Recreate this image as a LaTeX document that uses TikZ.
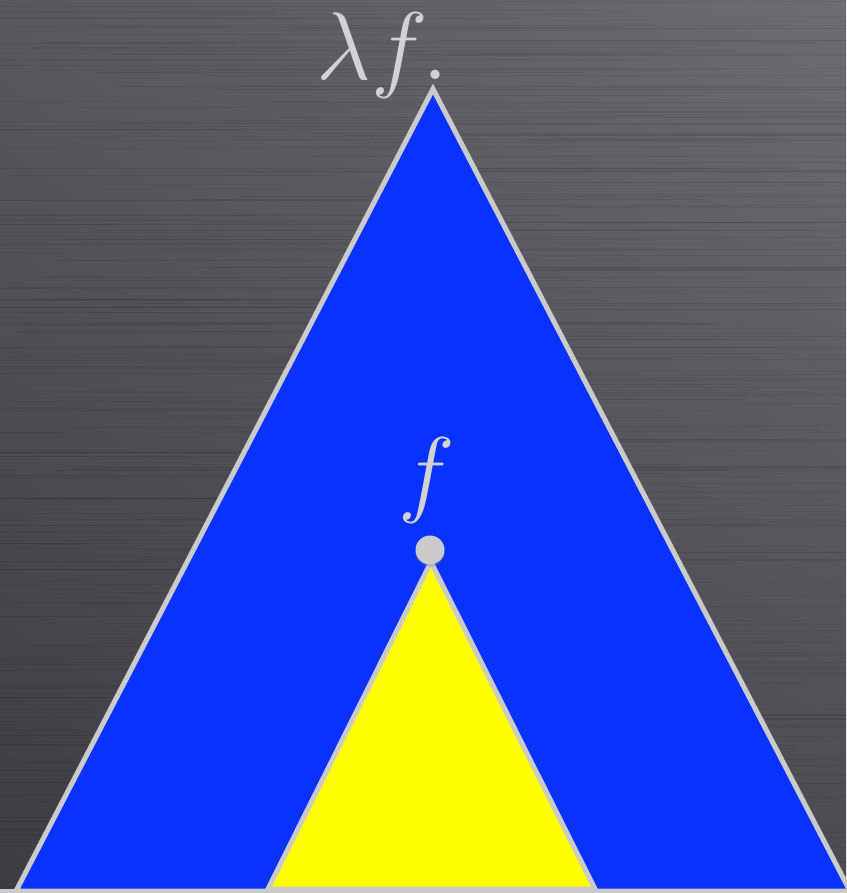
\documentclass[tikz,border=0pt]{standalone}
\usetikzlibrary{shadows,shadings}
\definecolor{bgTL}{HTML}{58585E}
\definecolor{bgTR}{HTML}{6C6C73}
\definecolor{bgBL}{HTML}{3C3C42}
\definecolor{bgBR}{HTML}{4A4A50}
\definecolor{edgegray}{HTML}{CACACA}
\definecolor{textgray}{HTML}{D2D2D2}
\definecolor{triblue}{HTML}{0A32FF}
\definecolor{triyellow}{HTML}{FFFF00}
\newcommand{\bigtxt}[1]{\scalebox{3.86}{\Huge #1}}
\tikzset{
  tri/.style={draw=edgegray, line width=5pt, line join=miter},
  lbl/.style={text=textgray, inner sep=0pt},
  bigdot/.style={circle, fill=edgegray, inner sep=0pt, minimum size=29pt},
}
\begin{document}
\begin{tikzpicture}[x=1pt,y=-1pt]
\useasboundingbox (0,0) rectangle (846,893);
% background
\shade[upper left=bgTL, upper right=bgTR, lower left=bgBL, lower right=bgBR] (0,0) rectangle (846,893);
\begin{scope}
\clip (0,0) rectangle (846,893);
\pgfmathsetseed{7}
\foreach \i in {1,...,420}{
  \pgfmathsetmacro{\yy}{rnd*893}
  \pgfmathsetmacro{\op}{0.03+rnd*0.07}
  \pgfmathsetmacro{\xa}{-300+rnd*900}
  \pgfmathsetmacro{\xb}{\xa+250+rnd*600}
  \draw[black, opacity=\op, line width=1pt] (\xa,\yy) -- (\xb,\yy);
}
\end{scope}
% blue triangle
\coordinate (bA) at (433,89);
\coordinate (bL) at (16,891);
\coordinate (bR) at (850,891);
\filldraw[tri, fill=triblue] (bA) -- (bL) -- (bR) -- cycle;
% yellow triangle
\coordinate (yA) at (431,562);
\coordinate (yL) at (268,889);
\coordinate (yR) at (595,889);
\filldraw[tri, fill=triyellow] (yA) -- (yL) -- (yR) -- cycle;
% bottom strip
\fill[edgegray] (0,889) rectangle (846,893);
% dot
\node[bigdot, drop shadow={shadow xshift=0pt, shadow yshift=-2pt, opacity=0.35}] (dot) at (430,550) {};
% labels
\node[lbl, anchor=base west] (lam) at (316,80) {\bigtxt{$\lambda f.$}};
\node[lbl, anchor=base west] (f) at (398,504) {\bigtxt{$f$}};
\end{tikzpicture}
\end{document}
